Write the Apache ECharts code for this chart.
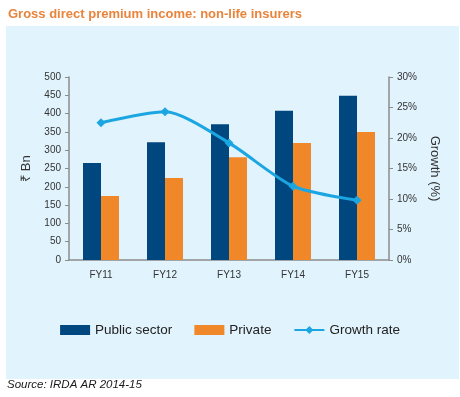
<!DOCTYPE html>
<html>
<head>
<meta charset="utf-8">
<script src="https://cdn.jsdelivr.net/npm/echarts@6/dist/echarts.min.js"></script>
<style>
  html, body { margin: 0; padding: 0; background: #fff; }
  #chart { width: 460px; height: 397px; }
</style>
</head>
<body>
<div id="chart"></div>
<script>
// values
var years = ['FY11', 'FY12', 'FY13', 'FY14', 'FY15'];
var publicSector = [265, 322, 371, 408, 449];
var privateSector = [175, 224, 281, 320, 350];
var growthRate = [22.5, 24.3, 19.2, 12.1, 9.8];

var font = 'Liberation Sans';
var axisGrey = '#8c8c8c';

var myChart = echarts.init(document.getElementById('chart'));
var option = {
    backgroundColor: '#ffffff',
    textStyle: { fontFamily: font },
    graphic: [
        {
            type: 'rect',
            z: -10,
            shape: { x: 6, y: 26, width: 453, height: 353 },
            style: { fill: '#e1f3fc' }
        },
        {
            type: 'text',
            left: 7,
            top: 379,
            style: {
                text: 'Source: IRDA AR 2014-15',
                fill: '#1a1a1a',
                font: 'italic 11.5px "Liberation Sans"'
            }
        }
    ],
    title: {
        text: 'Gross direct premium income: non-life insurers',
        left: 3,
        top: 3,
        textStyle: { color: '#e8843c', fontSize: 13, fontWeight: 'bold', fontFamily: font }
    },
    legend: {
        top: 318,
        left: 'center',
        itemWidth: 30,
        itemHeight: 10,
        itemGap: 22,
        textStyle: { color: '#222', fontSize: 13.5, fontFamily: font },
        data: [
            { name: 'Public sector', icon: 'rect' },
            { name: 'Private', icon: 'rect' },
            { name: 'Growth rate' }
        ]
    },
    grid: { left: 69, right: 71, top: 77, bottom: 137 },
    xAxis: {
        type: 'category',
        data: years,
        axisLine: { lineStyle: { color: axisGrey, width: 1.5 } },
        axisTick: { lineStyle: { color: axisGrey }, length: 4 },
        axisLabel: { color: '#333', fontSize: 10, margin: 10 }
    },
    yAxis: [
        {
            type: 'value',
            min: 0,
            max: 500,
            interval: 50,
            name: '₹ Bn',
            nameLocation: 'middle',
            nameGap: 36,
            nameTextStyle: { color: '#333', fontSize: 13 },
            axisLine: { show: true, lineStyle: { color: axisGrey, width: 1.5 } },
            axisTick: { show: true, length: 4, lineStyle: { color: axisGrey } },
            axisLabel: { color: '#333', fontSize: 10, margin: 8 },
            splitLine: { show: false }
        },
        {
            type: 'value',
            min: 0,
            max: 30,
            interval: 5,
            name: 'Growth (%)',
            nameLocation: 'middle',
            nameRotate: -90,
            nameGap: 37,
            nameTextStyle: { color: '#333', fontSize: 13 },
            axisLine: { show: true, lineStyle: { color: axisGrey, width: 1.5 } },
            axisTick: { show: true, length: 4, lineStyle: { color: axisGrey } },
            axisLabel: { color: '#333', fontSize: 10, margin: 8, formatter: '{value}%' },
            splitLine: { show: false }
        }
    ],
    series: [
        {
            name: 'Public sector',
            type: 'bar',
            data: publicSector,
            barWidth: 18,
            barGap: '0%',
            itemStyle: { color: '#00467f' }
        },
        {
            name: 'Private',
            type: 'bar',
            data: privateSector,
            barWidth: 18,
            itemStyle: { color: '#f0882a' }
        },
        {
            name: 'Growth rate',
            type: 'line',
            yAxisIndex: 1,
            data: growthRate,
            smooth: 0.25,
            symbol: 'diamond',
            symbolSize: 9,
            lineStyle: { color: '#1ba6e2', width: 3 },
            itemStyle: { color: '#1ba6e2' }
        }
    ]
};
myChart.setOption(option);
</script>
</body>
</html>
